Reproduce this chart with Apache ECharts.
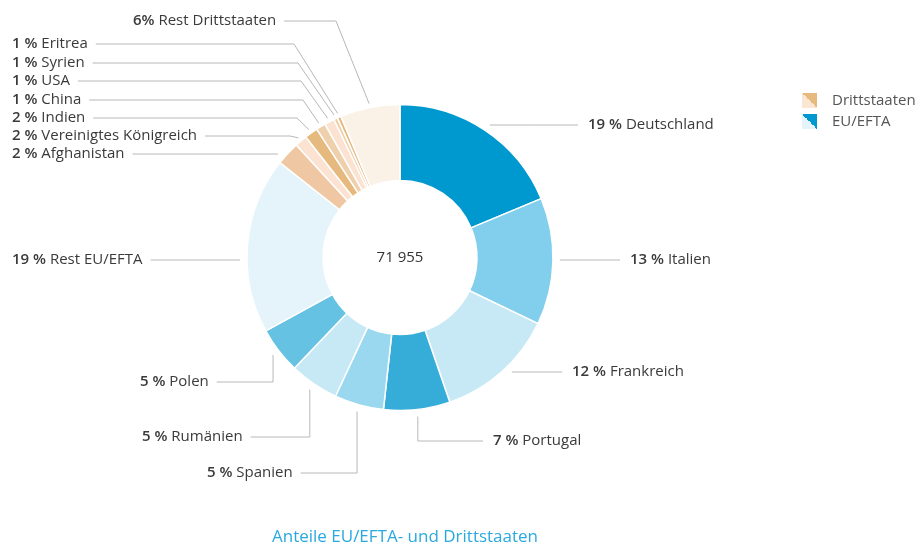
<!DOCTYPE html>
<html><head><meta charset="utf-8">
<script src="https://cdn.jsdelivr.net/npm/echarts@6/dist/echarts.min.js"></script>
<style>html,body{margin:0;padding:0;background:#fff}#c{width:915px;height:546px}</style>
</head><body><div id="c"></div>
<script>
// ---- data ----
const categories = ['Deutschland','Italien','Frankreich','Portugal','Spanien','Rumänien','Polen','Rest EU/EFTA',
  'Afghanistan','Vereinigtes Königreich','Indien','China','USA','Syrien','Eritrea','Rest Drittstaaten'];
const groupOf = ['EU/EFTA','EU/EFTA','EU/EFTA','EU/EFTA','EU/EFTA','EU/EFTA','EU/EFTA','EU/EFTA',
  'Drittstaaten','Drittstaaten','Drittstaaten','Drittstaaten','Drittstaaten','Drittstaaten','Drittstaaten','Drittstaaten'];
const shares = [18.7,13.4,12.6,7.0,5.2,5.2,4.9,18.6, 2.5,1.3,1.4,1.0,1.05,0.4,0.4,6.3];
const shareLabels = ['19 %','13 %','12 %','7 %','5 %','5 %','5 %','19 %','2 %','2 %','2 %','1 %','1 %','1 %','1 %','6%'];
const groupNames = ['Drittstaaten','EU/EFTA'];
const totalLabel = '71 955';
const chartTitle = 'Anteile EU/EFTA- und Drittstaaten';

// ---- styles / layout ----
const sliceColors = ['#0099cf','#82ceed','#c6e9f5','#36acd8','#9ad8f0','#c6e9f5','#66c2e3','#e5f4fb',
  '#f0c7a3','#fce3d1','#e6b97f','#efd0ac','#fce3d1','#efd0ac','#e6b97f','#faf1e7'];
const groupColors = {Drittstaaten:['#fbe6d3','#e6b97f'], 'EU/EFTA':['#e5f4fb','#0099cf']};
const CX = 400, CY = 257.5, R_IN = 77, R_OUT = 153, R_H = 160, R_D = 157;
const FONT = 'Open Sans';
const TXT = '#3a3a3a';
// label anchors: side, text y, text left x, line kind, elbow x
const labelCfg = [
  {side:'r', y:125, tx:588, kind:'h'},
  {side:'r', y:260, tx:630, kind:'h'},
  {side:'r', y:372, tx:572, kind:'h'},
  {side:'r', y:441, tx:493, kind:'v'},
  {side:'l', y:473, tx:207, kind:'v'},
  {side:'l', y:437, tx:142, kind:'v'},
  {side:'l', y:382, tx:140, kind:'v'},
  {side:'l', y:260, tx:12, kind:'h'},
  {side:'l', y:154, tx:12, kind:'h'},
  {side:'l', y:136, tx:12, kind:'d', ex:290},
  {side:'l', y:118, tx:12, kind:'d', ex:297},
  {side:'l', y:100, tx:12, kind:'d', ex:303},
  {side:'l', y:81,  tx:12, kind:'d', ex:301},
  {side:'l', y:63,  tx:12, kind:'d', ex:298},
  {side:'l', y:44,  tx:12, kind:'d', ex:294},
  {side:'l', y:21,  tx:133, kind:'d', ex:336}
];

function grad(c) {
  return {type:'linear', x:0, y:1, x2:1, y2:0, colorStops:[
    {offset:0,color:c[0]},{offset:0.5,color:c[0]},{offset:0.5,color:c[1]},{offset:1,color:c[1]}]};
}
const groupTotals = groupNames.map(g => shares.reduce((s,v,i)=> s + (groupOf[i]===g ? v : 0), 0));

const chart = echarts.init(document.getElementById('c'), null, {renderer:'canvas'});
chart.setOption({
  animation:false,
  backgroundColor:'#fff',
  legend:{
    data: groupNames, orient:'vertical', left:802, top:93, padding:0, itemWidth:15, itemHeight:15, itemGap:6,
    icon:'rect', selectedMode:false,
    textStyle:{fontFamily:FONT, fontSize:15, color:'#555', padding:[0,0,0,10]}
  },
  graphic:[
    {type:'text', x:CX, y:CY, style:{text: totalLabel, fill:'#333', font:'15px "Open Sans"', textAlign:'center', textVerticalAlign:'middle'}},
    {type:'text', x:405, y:537, style:{text: chartTitle, fill:'#2aa9e0', font:'17px "Open Sans"', textAlign:'center', textVerticalAlign:'middle'}}
  ],
  series:[
    {
      type:'pie', center:[CX, CY], radius:[R_IN, R_OUT], startAngle:90, clockwise:true,
      avoidLabelOverlap:false, silent:true, emphasis:{disabled:true},
      itemStyle:{borderColor:'#fff', borderWidth:1.5},
      label:{show:true, position:'outside', fontFamily:FONT, fontSize:15, color:TXT,
        formatter: p => `{p|${shareLabels[p.dataIndex]}} {n|${p.name}}`,
        rich:{p:{fontFamily:FONT, fontSize:15, fontWeight:600, color:TXT}, n:{fontFamily:FONT, fontSize:15, color:TXT}}},
      labelLine:{show:true, length:10, length2:10, smooth:false, lineStyle:{color:'#b8b8b8', width:1}},
      labelLayout: function (params) {
        const c = labelCfg[params.dataIndex];
        const w = params.labelRect.width;
        const p0 = params.labelLinePoints ? params.labelLinePoints[0] : [CX, CY - R_OUT];
        const ang = Math.atan2(p0[1]-CY, p0[0]-CX);
        const lineEnd = c.side === 'r' ? c.tx - 10 : c.tx + w + 8;
        let pts;
        if (c.kind === 'h') {
          const dy = c.y - CY;
          const xs = CX + (c.side === 'r' ? 1 : -1) * Math.sqrt(R_H*R_H - dy*dy);
          pts = [[xs, c.y], [(xs+lineEnd)/2, c.y], [lineEnd, c.y]];
        } else if (c.kind === 'v') {
          const xs = CX + R_H*Math.cos(ang), ys = CY + R_H*Math.sin(ang);
          pts = [[xs, ys], [xs, c.y], [lineEnd, c.y]];
        } else {
          const xs = CX + R_D*Math.cos(ang), ys = CY + R_D*Math.sin(ang);
          pts = [[xs, ys], [c.ex, c.y], [lineEnd, c.y]];
        }
        return {x:c.tx, y:c.y, align:'left', verticalAlign:'middle', labelLinePoints:pts};
      },
      data: categories.map((n,i) => ({name:n, value:shares[i], itemStyle:{color:sliceColors[i]}}))
    },
    {
      type:'pie', center:[CX, CY], radius:[0, 0], silent:true, label:{show:false}, labelLine:{show:false},
      emphasis:{disabled:true},
      data: groupNames.map((g,i) => ({name:g, value:groupTotals[i], itemStyle:{color:grad(groupColors[g])}}))
    }
  ]
});
</script></body></html>
